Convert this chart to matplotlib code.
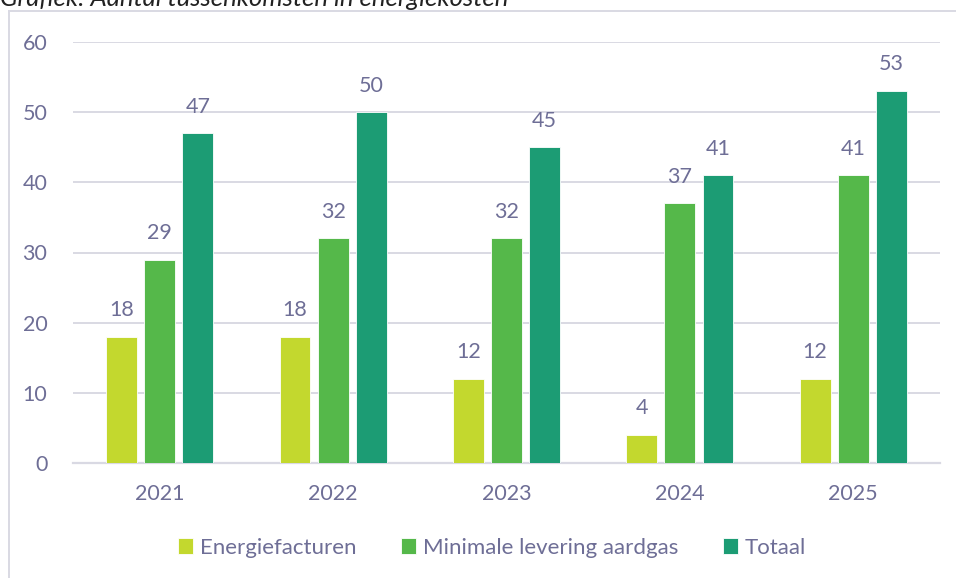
import numpy as np
import matplotlib.pyplot as plt
from matplotlib.lines import Line2D

years = ['2021', '2022', '2023', '2024', '2025']
energiefacturen = [18, 18, 12, 4, 12]
minimale_levering = [29, 32, 32, 37, 41]
totaal = [47, 50, 45, 41, 53]

series = [
    ('Energiefacturen', energiefacturen, '#C3D82E'),
    ('Minimale levering aardgas', minimale_levering, '#55B84A'),
    ('Totaal', totaal, '#1C9C74'),
]

text_color = '#6E6E96'
grid_color = '#D9D9E3'

plt.rcParams['font.family'] = ['Lato', 'DejaVu Sans']

fig = plt.figure(figsize=(9.56, 5.78), dpi=100)
W, H = 956, 578
ax = fig.add_axes([73 / W, 1 - 463 / H, (940 - 73) / W, (463 - 42) / H])

x = np.arange(len(years))
width = 0.178
step = 0.22
for i, (name, vals, color) in enumerate(series):
    pos = x + (i - 1) * step
    bars = ax.bar(pos, vals, width, color=color, edgecolor='white',
                  linewidth=0.6, label=name, zorder=3)
    for b, v in zip(bars, vals):
        ax.text(b.get_x() + b.get_width() / 2, v + 3.8, str(v),
                ha='center', va='center', fontsize=15.5, color=text_color)

ax.set_xlim(-0.5, len(years) - 0.5)
ax.set_ylim(0, 60)
ax.set_yticks(range(0, 61, 10))
ax.set_xticks(x)
ax.set_xticklabels(years)
ax.yaxis.grid(True, color=grid_color, linewidth=1.4, zorder=0)
ax.set_axisbelow(True)
for s in ['top', 'right', 'left']:
    ax.spines[s].set_visible(False)
ax.spines['bottom'].set_color(grid_color)
ax.spines['bottom'].set_linewidth(1.6)
ax.tick_params(axis='both', length=0, labelsize=15.5, labelcolor=text_color)
ax.tick_params(axis='y', pad=18.5)
ax.tick_params(axis='x', pad=15)

leg = fig.legend(loc='center', bbox_to_anchor=(492 / W, 1 - 548 / H), ncol=3,
                 frameon=False, fontsize=16, handlelength=0.7,
                 handleheight=0.7, handletextpad=0.3, columnspacing=2.0)
for t in leg.get_texts():
    t.set_color(text_color)

# chart frame (top and left edge)
fig.add_artist(Line2D([9 / W, 1], [1 - 11 / H, 1 - 11 / H], color=grid_color,
                      linewidth=1.4, transform=fig.transFigure))
fig.add_artist(Line2D([9 / W, 9 / W], [0, 1 - 11 / H], color=grid_color,
                      linewidth=1.4, transform=fig.transFigure))

fig.text(0, 1 + 2 / H, 'Grafiek: Aantal tussenkomsten in energiekosten',
         fontsize=18.5, style='italic', color='#222222', ha='left', va='center')

fig.savefig('out.png', dpi=100)
